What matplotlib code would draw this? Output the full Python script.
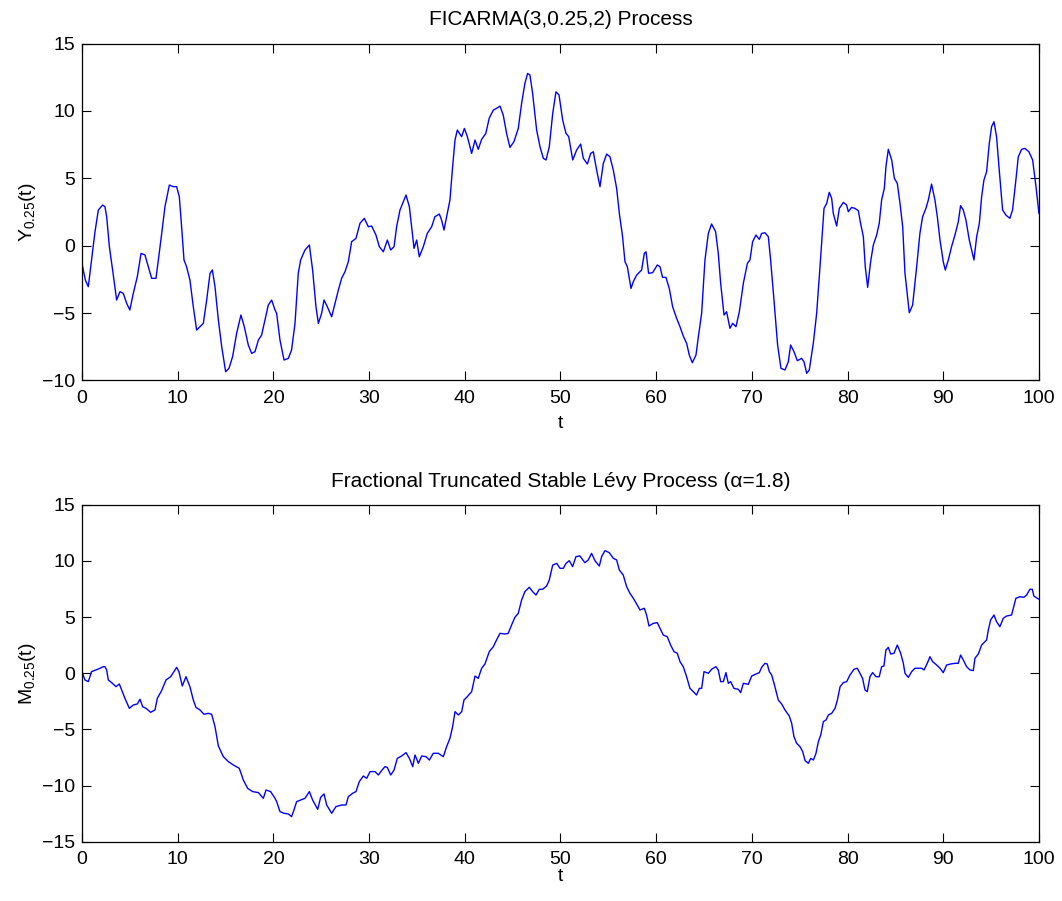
import matplotlib
matplotlib.use("Agg")
import matplotlib.pyplot as plt

plt.rcParams['font.family'] = ['Liberation Sans', 'DejaVu Sans']
plt.rcParams['mathtext.fontset'] = 'custom'
plt.rcParams['mathtext.rm'] = 'Liberation Sans'
plt.rcParams['mathtext.it'] = 'Liberation Sans:italic'

# ---- FICARMA(3,0.25,2) sample path ----
t_top = [0.03, 0.35, 0.66, 1.0, 1.36, 1.71, 2.16, 2.40, 2.58, 2.86, 3.2, 3.62, 3.97, 4.32, 4.67, 5.0,
         5.36, 5.78, 6.17, 6.58, 6.93, 7.28, 7.73, 7.98, 8.33, 8.67, 9.13, 9.54, 9.89, 10.17, 10.41,
         10.66, 10.93, 11.28, 11.63, 11.98, 12.33, 12.68, 13.03, 13.38, 13.62, 13.9, 14.25, 14.6,
         15.01, 15.36, 15.74, 16.16, 16.61, 16.96, 17.38, 17.73, 18.08, 18.43, 18.77, 19.12, 19.47,
         19.82, 20.17, 20.34, 20.69, 21.11, 21.56, 21.9, 22.26, 22.6, 22.85, 23.3, 23.76, 24.1,
         24.45, 24.7, 25.04, 25.29, 25.64, 26.09, 26.44, 26.79, 27.13, 27.48, 27.83, 28.18, 28.63,
         29.05, 29.5, 29.92, 30.27, 30.72, 31.07, 31.49, 31.91, 32.26, 32.61, 32.88, 33.23, 33.58,
         33.86, 34.21, 34.45, 34.7, 34.97, 35.25, 35.67, 36.08, 36.54, 36.88, 37.34, 37.58, 37.83,
         38.11, 38.45, 38.73, 38.98, 39.22, 39.67, 39.96, 40.27, 40.72, 41.07, 41.41, 41.76, 42.2,
         42.55, 42.98, 43.32, 43.68, 44.02, 44.37, 44.72, 45.14, 45.59, 45.94, 46.28, 46.57, 46.81,
         47.09, 47.51, 47.86, 48.21, 48.49, 48.83, 49.19, 49.53, 49.85, 50.23, 50.58, 50.86, 51.28,
         51.69, 52.11, 52.39, 52.81, 53.16, 53.43, 53.78, 54.13, 54.48, 54.83, 55.17, 55.52, 55.87,
         56.15, 56.49, 56.74, 56.99, 57.16, 57.37, 57.61, 57.96, 58.48, 58.76, 58.94, 59.21, 59.63,
         60.12, 60.4, 60.67, 61.02, 61.37, 61.72, 62.14, 62.49, 62.83, 63.18, 63.46, 63.78, 64.16,
         64.41, 64.75, 65.1, 65.45, 65.79, 66.21, 66.49, 66.74, 67.09, 67.36, 67.71, 67.99, 68.34,
         68.69, 69.11, 69.53, 69.8, 70.08, 70.43, 70.78, 71.02, 71.37, 71.72, 71.96, 72.31, 72.69,
         73.04, 73.46, 73.81, 74.05, 74.4, 74.75, 75.2, 75.45, 75.73, 76.0, 76.42, 76.77, 77.12,
         77.54, 77.82, 78.09, 78.34, 78.51, 78.86, 79.14, 79.56, 79.9, 80.08, 80.42, 80.77, 81.12,
         81.36, 81.65, 81.85, 82.1, 82.41, 82.69, 83.04, 83.31, 83.56, 83.84, 84.01, 84.26, 84.61,
         84.89, 85.2, 85.48, 85.76, 86.0, 86.45, 86.8, 87.22, 87.56, 87.84, 88.19, 88.44, 88.78,
         89.13, 89.38, 89.66, 90.0, 90.21, 90.53, 90.87, 91.22, 91.57, 91.81, 92.09, 92.37, 92.72,
         92.96, 93.21, 93.49, 93.77, 94.01, 94.25, 94.53, 94.81, 95.05, 95.3, 95.57, 95.85, 96.2,
         96.55, 96.96, 97.24, 97.59, 97.84, 98.19, 98.53, 98.95, 99.34, 99.69, 100.0]
y_top = [-1.43, -2.55, -3.04, -1.06, 1.04, 2.65, 3.02, 2.89, 2.15, -0.07, -1.8, -4.03, -3.41, -3.54,
         -4.28, -4.77, -3.54, -2.3, -0.57, -0.69, -1.56, -2.42, -2.42, -1.06, 0.91, 2.89, 4.5, 4.38,
         4.38, 3.63, 1.41, -1.06, -1.56, -2.55, -4.52, -6.26, -6.01, -5.76, -4.03, -2.05, -1.8, -3.04,
         -5.51, -7.49, -9.35, -9.1, -8.23, -6.5, -5.14, -6.01, -7.37, -7.99, -7.86, -7.0, -6.63,
         -5.51, -4.4, -4.03, -4.77, -5.02, -7.0, -8.48, -8.36, -7.74, -5.76, -2.05, -1.06, -0.32,
         0.05, -1.8, -4.53, -5.76, -5.02, -4.03, -4.53, -5.27, -4.28, -3.29, -2.42, -1.93, -1.19,
         0.3, 0.54, 1.66, 2.03, 1.41, 1.46, 0.79, -0.07, -0.45, 0.42, -0.32, -0.07, 1.41, 2.65, 3.26,
         3.76, 2.89, 1.41, -0.2, 0.42, -0.82, -0.07, 0.91, 1.41, 2.15, 2.35, 1.9, 1.16, 2.15, 3.39,
         5.86, 7.84, 8.58, 8.09, 8.7, 8.09, 6.85, 7.84, 7.15, 7.89, 8.33, 9.45, 10.06, 10.19, 10.36,
         9.69, 8.33, 7.29, 7.72, 8.70, 10.56, 12.04, 12.78, 12.66, 11.30, 8.58, 7.34, 6.48, 6.36,
         7.34, 9.82, 11.42, 11.18, 9.32, 8.33, 8.09, 6.36, 7.10, 7.54, 6.48, 6.06, 6.85, 6.97, 5.61,
         4.38, 6.11, 6.80, 6.60, 5.61, 4.25, 2.40, 0.67, -1.19, -1.56, -2.30, -3.17, -2.67, -2.18,
         -1.80, -0.57, -0.45, -2.05, -2.00, -1.43, -1.56, -2.35, -2.35, -3.17, -4.53, -5.39, -6.01,
         -6.70, -7.24, -8.11, -8.68, -8.11, -6.75, -5.02, -1.06, 0.91, 1.61, 1.04, -0.57, -2.79,
         -5.14, -4.90, -6.13, -5.76, -6.01, -4.90, -2.79, -1.31, -1.06, 0.30, 0.79, 0.47, 0.91, 0.96,
         0.67, -1.06, -4.03, -7.37, -9.10, -9.22, -8.61, -7.37, -7.86, -8.53, -8.36, -8.61, -9.47,
         -9.22, -7.24, -5.02, -1.56, 2.77, 3.14, 3.96, 3.51, 2.40, 1.46, 2.77, 3.21, 3.02, 2.52, 2.84,
         2.77, 2.60, 1.66, 0.67, -1.56, -3.09, -1.19, 0.05, 0.79, 1.66, 3.39, 4.25, 5.86, 7.15, 6.36,
         5.00, 4.62, 3.14, 1.41, -2.05, -4.97, -4.40, -1.56, 0.91, 2.15, 2.77, 3.39, 4.57, 3.39, 2.15,
         0.42, -1.19, -1.80, -1.06, -0.07, 0.79, 1.78, 2.97, 2.65, 1.90, 0.42, -0.32, -1.06, 0.67,
         1.66, 3.63, 4.87, 5.49, 7.59, 8.83, 9.20, 8.09, 5.61, 2.65, 2.27, 2.03, 2.65, 4.87, 6.60,
         7.15, 7.22, 6.97, 6.36, 4.38, 2.40]

# ---- Fractional truncated stable Levy sample path ----
t_bot = [0.03, 0.31, 0.66, 1.0, 1.46, 1.88, 2.23, 2.40, 2.58, 2.75, 3.1, 3.55, 3.9, 4.14, 4.49, 4.95,
         5.36, 5.78, 6.06, 6.34, 6.69, 7.18, 7.63, 7.87, 8.32, 8.78, 9.26, 9.61, 9.89, 10.13, 10.48,
         10.87, 11.28, 11.63, 11.91, 12.33, 12.75, 13.2, 13.55, 13.9, 14.25, 14.77, 15.29, 15.81,
         16.44, 16.86, 17.31, 17.83, 18.43, 18.95, 19.23, 19.71, 20.17, 20.34, 20.69, 21.11, 21.56,
         21.9, 22.15, 22.43, 22.85, 23.3, 23.76, 24.1, 24.63, 24.94, 25.29, 25.57, 26.09, 26.54,
         27.13, 27.59, 27.83, 28.28, 28.63, 28.98, 29.4, 29.75, 30.1, 30.62, 30.97, 31.31, 31.66,
         31.9, 32.26, 32.61, 32.95, 33.4, 33.86, 34.21, 34.56, 34.8, 35.15, 35.5, 35.95, 36.3, 36.71,
         37.23, 37.76, 38.1, 38.45, 38.73, 38.98, 39.33, 39.68, 39.92, 40.2, 40.72, 41.07, 41.41,
         41.76, 42.11, 42.56, 42.98, 43.32, 43.68, 44.2, 44.54, 44.89, 45.24, 45.59, 45.94, 46.28,
         46.74, 47.09, 47.44, 47.79, 48.13, 48.55, 48.83, 49.19, 49.61, 49.95, 50.3, 50.58, 50.92,
         51.27, 51.62, 52.03, 52.55, 52.9, 53.25, 53.6, 54.06, 54.3, 54.65, 55.1, 55.52, 55.87, 56.15,
         56.56, 56.91, 57.26, 57.61, 57.96, 58.31, 58.76, 59.0, 59.25, 59.7, 60.12, 60.4, 60.74,
         61.16, 61.51, 61.86, 62.21, 62.49, 62.83, 63.18, 63.53, 63.88, 64.22, 64.51, 64.75, 65.0,
         65.45, 65.79, 66.24, 66.49, 66.74, 67.02, 67.29, 67.54, 67.78, 68.13, 68.58, 68.83, 69.11,
         69.63, 69.98, 70.43, 70.78, 71.02, 71.37, 71.61, 71.82, 72.07, 72.41, 72.76, 73.11, 73.46,
         73.91, 74.16, 74.4, 74.68, 75.03, 75.31, 75.56, 75.9, 76.15, 76.43, 76.7, 76.95, 77.2, 77.47,
         77.75, 78.0, 78.34, 78.69, 78.94, 79.22, 79.56, 79.91, 80.25, 80.67, 81.02, 81.3, 81.57,
         81.82, 82.06, 82.34, 82.62, 82.97, 83.31, 83.56, 83.8, 84.01, 84.26, 84.5, 84.85, 85.2,
         85.55, 85.83, 86.0, 86.35, 86.7, 87.04, 87.39, 87.74, 87.99, 88.33, 88.61, 88.89, 89.31,
         89.66, 90.0, 90.35, 90.77, 91.22, 91.57, 91.81, 92.09, 92.44, 92.79, 93.14, 93.31, 93.66,
         94.01, 94.53, 94.71, 94.95, 95.3, 95.57, 95.92, 96.27, 96.62, 97.14, 97.59, 98.0, 98.43,
         98.71, 99.05, 99.3, 99.47, 99.82, 100.0]
m_bot = [0.06, -0.59, -0.74, 0.15, 0.30, 0.45, 0.59, 0.59, 0.30, -0.59, -0.83, -1.19, -0.95, -1.48,
         -2.23, -3.12, -2.82, -2.73, -2.31, -2.97, -3.12, -3.47, -3.26, -2.23, -1.54, -0.59, -0.30,
         0.15, 0.53, 0.15, -1.13, -0.30, -1.19, -2.37, -3.03, -3.26, -3.65, -3.56, -3.65, -4.75,
         -6.47, -7.42, -7.86, -8.16, -8.46, -9.50, -10.24, -10.53, -10.62, -11.13, -10.39, -10.53,
         -11.13, -11.42, -12.31, -12.46, -12.52, -12.76, -12.17, -11.42, -11.28, -11.13, -10.53,
         -11.28, -12.11, -11.04, -10.74, -11.72, -12.46, -11.87, -11.72, -11.72, -10.98, -10.68,
         -10.53, -9.64, -9.14, -9.35, -8.75, -8.75, -9.05, -8.66, -8.31, -8.37, -9.05, -8.61, -7.57,
         -7.36, -7.06, -7.57, -8.31, -7.27, -8.01, -7.36, -7.42, -7.72, -7.12, -7.12, -7.42, -6.53,
         -5.79, -4.75, -3.41, -3.71, -3.41, -2.37, -2.14, -1.63, -0.24, -0.45, 0.45, 0.83, 1.93, 2.37,
         2.97, 3.56, 3.50, 3.56, 4.30, 4.99, 5.34, 6.53, 7.27, 7.66, 7.27, 6.97, 7.48, 7.48, 7.77,
         8.31, 9.64, 9.79, 9.35, 9.35, 9.79, 10.03, 9.50, 10.39, 10.45, 9.85, 10.09, 10.68, 10.03,
         9.55, 10.39, 10.92, 10.74, 10.24, 10.09, 9.20, 8.75, 7.72, 7.12, 6.68, 6.17, 5.64, 5.79,
         5.19, 4.21, 4.45, 4.51, 4.01, 3.41, 3.26, 2.52, 1.93, 1.78, 1.04, 0.59, -0.30, -1.34, -1.63,
         -1.93, -1.34, -1.34, 0.15, 0.00, 0.36, 0.59, 0.30, -0.74, -0.74, 0.06, -0.89, -0.74, -1.34,
         -1.42, -1.72, -0.89, -0.98, -0.24, -0.06, 0.06, 0.53, 0.89, 0.83, 0.15, -0.15, -1.19, -2.37,
         -2.73, -3.26, -3.80, -4.45, -5.64, -6.23, -6.53, -6.97, -7.77, -8.01, -7.57, -7.72, -7.12,
         -6.08, -5.49, -4.30, -4.15, -3.71, -3.56, -3.12, -2.37, -1.19, -0.83, -0.74, -0.15, 0.36,
         0.45, 0.00, -0.45, -1.48, -1.63, -0.30, 0.06, -0.30, -0.30, 0.59, 0.65, 2.08, 2.31, 1.72,
         1.78, 2.52, 1.78, 0.89, 0.00, -0.36, 0.15, 0.45, 0.45, 0.45, 0.30, 0.89, 1.48, 1.04, 0.74,
         0.45, 0.06, 0.74, 0.83, 0.89, 0.89, 1.63, 1.19, 0.59, 0.30, 0.24, 1.34, 1.72, 2.52, 2.97,
         3.86, 4.75, 5.19, 4.60, 4.15, 4.90, 5.10, 5.19, 6.68, 6.82, 6.77, 6.97, 7.48, 7.48, 6.88,
         6.68, 6.59]

x_ticks = list(range(0, 101, 10))
top_yticks = [-10, -5, 0, 5, 10, 15]
bot_yticks = [-15, -10, -5, 0, 5, 10, 15]

fig = plt.figure(figsize=(10.62, 9.01), dpi=100)
ax1 = fig.add_axes([0.0772, 0.5777, 0.9011, 0.3740])
ax2 = fig.add_axes([0.0772, 0.0657, 0.9011, 0.3740])


def style(ax, yticks, xlabelpad):
    ax.set_xlim(0, 100)
    ax.set_ylim(yticks[0], yticks[-1])
    ax.set_xticks(x_ticks)
    ax.set_yticks(yticks)
    ax.tick_params(direction='in', top=True, right=True, length=6.5, width=0.8,
                   labelsize=14, colors='black')
    ax.tick_params(axis='x', pad=6.5)
    ax.tick_params(axis='y', pad=5)
    for s in ax.spines.values():
        s.set_linewidth(0.9)
    ax.set_xlabel('t', fontsize=14, labelpad=xlabelpad)


ax1.plot(t_top, y_top, color=(0, 0, 1), linewidth=1.0)
style(ax1, top_yticks, 6)
ax1.set_ylabel(r'$\mathregular{Y_{0.25}(t)}$', fontsize=14, labelpad=3)
ax1.set_title('FICARMA(3,0.25,2) Process', fontsize=15, pad=13)

ax2.plot(t_bot, m_bot, color=(0, 0, 1), linewidth=1.0)
style(ax2, bot_yticks, 0)
ax2.set_ylabel(r'$\mathregular{M_{0.25}(t)}$', fontsize=14, labelpad=3)
ax2.set_title('Fractional Truncated Stable Lévy Process (α=1.8)', fontsize=15, pad=13)

fig.savefig('out.png', dpi=100)
